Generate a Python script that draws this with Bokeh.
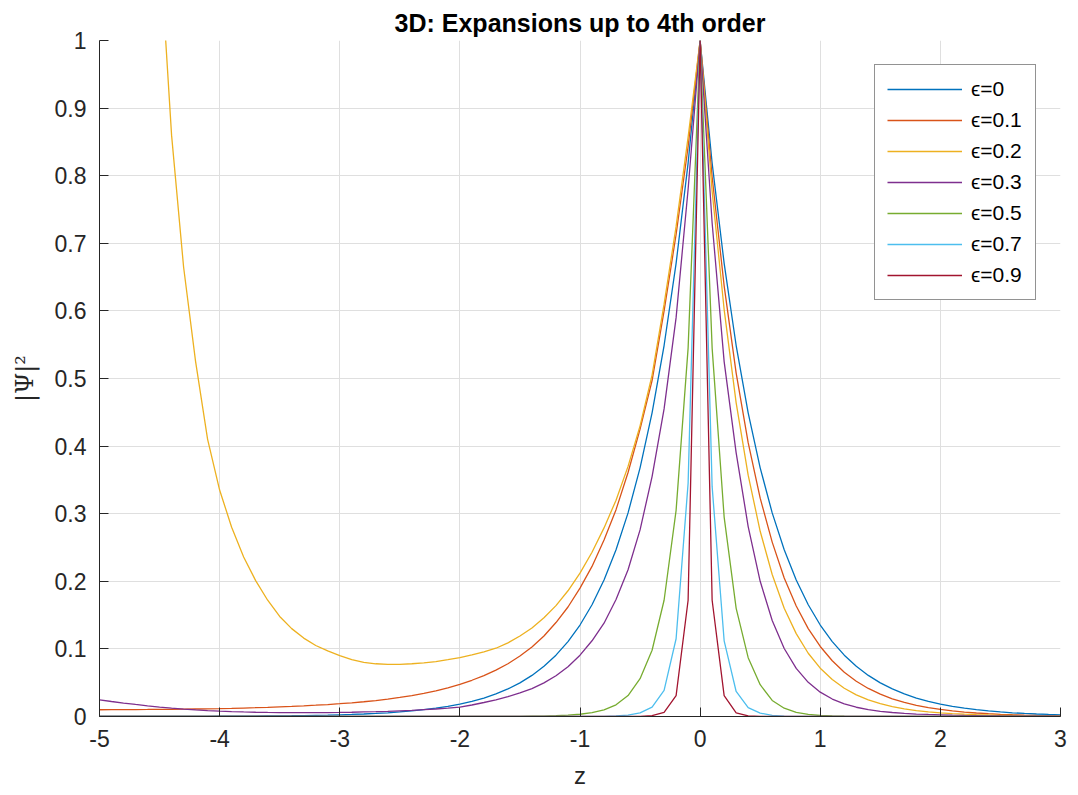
from bokeh.plotting import figure
from bokeh.models import Range1d, Legend, LegendItem, FixedTicker, PrintfTickFormatter
from bokeh.embed import file_html
from bokeh.resources import INLINE

# sampling grid (z from -5 to 3, step 0.1)
z = [round(-5 + 0.1 * i, 1) for i in range(81)]

# |Psi|^2, left part (z=-5.0 .. -0.1), peak, right part (z=0.1 .. 3.0)
eps0_left = [0.00005, 0.00006, 0.00007, 0.00008, 0.0001, 0.00012, 0.00015, 0.00018, 0.00022, 0.00027,
             0.00034, 0.00041, 0.0005, 0.00061, 0.00075, 0.00091, 0.0011, 0.0014, 0.0017, 0.002,
             0.0025, 0.003, 0.0037, 0.0045, 0.0055, 0.0067, 0.0082, 0.0101, 0.0123, 0.015,
             0.0183, 0.0224, 0.0273, 0.0334, 0.0408, 0.0498, 0.0608, 0.0743, 0.0907, 0.1108,
             0.1353, 0.1653, 0.2019, 0.2466, 0.3012, 0.3679, 0.4493, 0.5488, 0.6703, 0.8187]
eps0_right = [0.8187, 0.6703, 0.5488, 0.4493, 0.3679, 0.3012, 0.2466, 0.2019, 0.1653, 0.1353,
              0.1108, 0.0907, 0.0743, 0.0608, 0.0498, 0.0408, 0.0334, 0.0273, 0.0224, 0.0183,
              0.015, 0.0123, 0.0101, 0.0082, 0.0067, 0.0055, 0.0045, 0.0037, 0.003, 0.0025]

eps01_left = [0.0100, 0.0101, 0.0102, 0.0103, 0.0104, 0.0106, 0.0107, 0.0109, 0.0111, 0.0113,
              0.0116, 0.0120, 0.0125, 0.0130, 0.0136, 0.0143, 0.0150, 0.0158, 0.0167, 0.0177,
              0.0189, 0.0202, 0.0218, 0.0236, 0.0257, 0.0282, 0.0310, 0.0342, 0.0380, 0.0424,
              0.0476, 0.0536, 0.0605, 0.0686, 0.0780, 0.0894, 0.1028, 0.119, 0.139, 0.162,
              0.190, 0.222, 0.261, 0.306, 0.361, 0.425, 0.497, 0.600, 0.713, 0.843]
eps01_right = [0.798, 0.637, 0.508, 0.405, 0.323, 0.258, 0.205, 0.1635, 0.130, 0.1036,
               0.0825, 0.0656, 0.0522, 0.0415, 0.0330, 0.0262, 0.0208, 0.0165, 0.0131, 0.0104,
               0.00825, 0.00654, 0.00518, 0.00411, 0.00326, 0.00258, 0.00204, 0.00162, 0.00128, 0.00101]

eps02_left = [4.0, 3.1, 2.4, 1.85, 1.45, 1.146, 0.86, 0.665, 0.525, 0.41,
              0.335, 0.28, 0.236, 0.201, 0.172, 0.148, 0.13, 0.116, 0.105, 0.097,
              0.090, 0.0843, 0.0802, 0.078, 0.0772, 0.0772, 0.078, 0.0793, 0.0813, 0.084,
              0.087, 0.091, 0.0955, 0.101, 0.109, 0.119, 0.131, 0.146, 0.164, 0.186,
              0.212, 0.243, 0.279, 0.32, 0.37, 0.43, 0.505, 0.61, 0.725, 0.857]
eps02_right = [0.777, 0.602, 0.464, 0.357, 0.274, 0.210, 0.160, 0.1226, 0.0936, 0.0715,
               0.0546, 0.0418, 0.032, 0.0246, 0.0189, 0.0146, 0.0113, 0.0088, 0.0069, 0.0054,
               0.0043, 0.0034, 0.0027, 0.0022, 0.0018, 0.0015, 0.0012, 0.001, 0.0008, 0.0007]

eps03_left = [0.0247, 0.0222, 0.0199, 0.0178, 0.0158, 0.0140, 0.0124, 0.0110, 0.0098, 0.0088,
              0.0079, 0.0072, 0.0067, 0.0063, 0.0060, 0.0058, 0.0057, 0.0057, 0.0057, 0.0058,
              0.0060, 0.0063, 0.0068, 0.0072, 0.0077, 0.0084, 0.0091, 0.0101, 0.0111, 0.0123,
              0.0140, 0.0170, 0.0207, 0.0247, 0.0294, 0.0349, 0.0413, 0.0498, 0.0603, 0.0737,
              0.0907, 0.112, 0.138, 0.173, 0.217, 0.276, 0.355, 0.455, 0.59, 0.78]
eps03_right = [0.73, 0.525, 0.39, 0.281, 0.200, 0.142, 0.1006, 0.0711, 0.0505, 0.036,
               0.0258, 0.0187, 0.0137, 0.0101, 0.0076, 0.0059, 0.0046, 0.0036, 0.003, 0.0025,
               0.002, 0.0016, 0.0013, 0.001, 0.0008, 0.0007, 0.0005, 0.0004, 0.0004, 0.0003]

eps05_left = [0.0] * 35 + [0.0002, 0.0004, 0.0006, 0.0011, 0.0019, 0.0033, 0.0056, 0.0099, 0.0173,
                           0.031, 0.056, 0.098, 0.172, 0.305, 0.545]
eps05_right = [0.545, 0.295, 0.16, 0.087, 0.047, 0.0237, 0.0123, 0.006, 0.003, 0.0015,
               0.0008, 0.0004, 0.0002] + [0.0] * 17

eps07_left = [0.0] * 42 + [0.0003, 0.0008, 0.002, 0.0054, 0.0138, 0.0385, 0.115, 0.345]
eps07_right = [0.34, 0.112, 0.037, 0.013, 0.005, 0.0018, 0.0007, 0.0002] + [0.0] * 22

eps09_left = [0.0] * 45 + [0.0002, 0.0012, 0.006, 0.031, 0.172]
eps09_right = [0.172, 0.031, 0.0055, 0.001, 0.0002] + [0.0] * 25

peak = [1.0]

series = [
    ("\u03f5=0", eps0_left + peak + eps0_right, "#0072BD"),
    ("\u03f5=0.1", eps01_left + peak + eps01_right, "#D95319"),
    ("\u03f5=0.2", eps02_left + peak + eps02_right, "#EDB120"),
    ("\u03f5=0.3", eps03_left + peak + eps03_right, "#7E2F8E"),
    ("\u03f5=0.5", eps05_left + peak + eps05_right, "#77AC30"),
    ("\u03f5=0.7", eps07_left + peak + eps07_right, "#4DBEEE"),
    ("\u03f5=0.9", eps09_left + peak + eps09_right, "#A2142F"),
]

x_ticks = [-5, -4, -3, -2, -1, 0, 1, 2, 3]
y_ticks = [0, 0.1, 0.2, 0.3, 0.4, 0.5, 0.6, 0.7, 0.8, 0.9, 1]

p = figure(frame_width=961, frame_height=676,
           x_range=Range1d(-5, 3), y_range=Range1d(0, 1),
           output_backend="svg", toolbar_location=None,
           min_border_left=99, min_border_right=10, min_border_top=40, min_border_bottom=60,
           background_fill_color="white", border_fill_color="white")
p.outline_line_color = None

p.title.text = "3D: Expansions up to 4th order"
p.title.align = "center"
p.title.text_font = "Liberation Sans"
p.title.text_font_size = "25px"
p.title.text_font_style = "bold"
p.title.text_color = "#000000"
p.title.standoff = 8

items = []
for label, vals, color in series:
    assert len(vals) == len(z)
    r = p.line(z, vals, line_color=color, line_width=1.3)
    items.append(LegendItem(label=label, renderers=[r]))

for ax, ticks in ((p.xaxis, x_ticks), (p.yaxis, y_ticks)):
    ax.ticker = FixedTicker(ticks=ticks)
    ax.formatter = PrintfTickFormatter(format="%g")
    ax.axis_line_color = "#262626"
    ax.major_tick_line_color = "#262626"
    ax.major_tick_in = 9
    ax.major_tick_out = 0
    ax.minor_tick_line_color = None
    ax.major_label_text_font = "Liberation Sans"
    ax.major_label_text_font_size = "23px"
    ax.major_label_text_color = "#262626"

p.xaxis.major_label_standoff = 13
p.yaxis.major_label_standoff = 13
p.xaxis.axis_label = "z"
p.xaxis.axis_label_text_font = "Liberation Sans"
p.xaxis.axis_label_text_font_size = "24px"
p.xaxis.axis_label_text_font_style = "normal"
p.xaxis.axis_label_text_color = "#262626"
p.xaxis.axis_label_standoff = 12
p.yaxis.axis_label = "|\u03a8|\u00b2"
p.yaxis.axis_label_text_font = "DejaVu Serif"
p.yaxis.axis_label_text_font_size = "24px"
p.yaxis.axis_label_text_font_style = "normal"
p.yaxis.axis_label_text_color = "#262626"
p.yaxis.axis_label_standoff = 13

p.grid.grid_line_color = "#DFDFDF"
p.grid.grid_line_width = 1

legend = Legend(items=items, location="top_right")
legend.margin = 24
legend.padding = 12
legend.spacing = 7
legend.glyph_width = 75
legend.glyph_height = 20
legend.label_height = 20
legend.label_width = 52
legend.label_standoff = 9
legend.label_text_font = "Liberation Sans"
legend.label_text_font_size = "21px"
legend.label_text_color = "#000000"
legend.border_line_color = "#262626"
legend.border_line_width = 1
legend.background_fill_color = "white"
legend.background_fill_alpha = 1.0
p.add_layout(legend)

open("out.html", "w").write(file_html(p, INLINE))
